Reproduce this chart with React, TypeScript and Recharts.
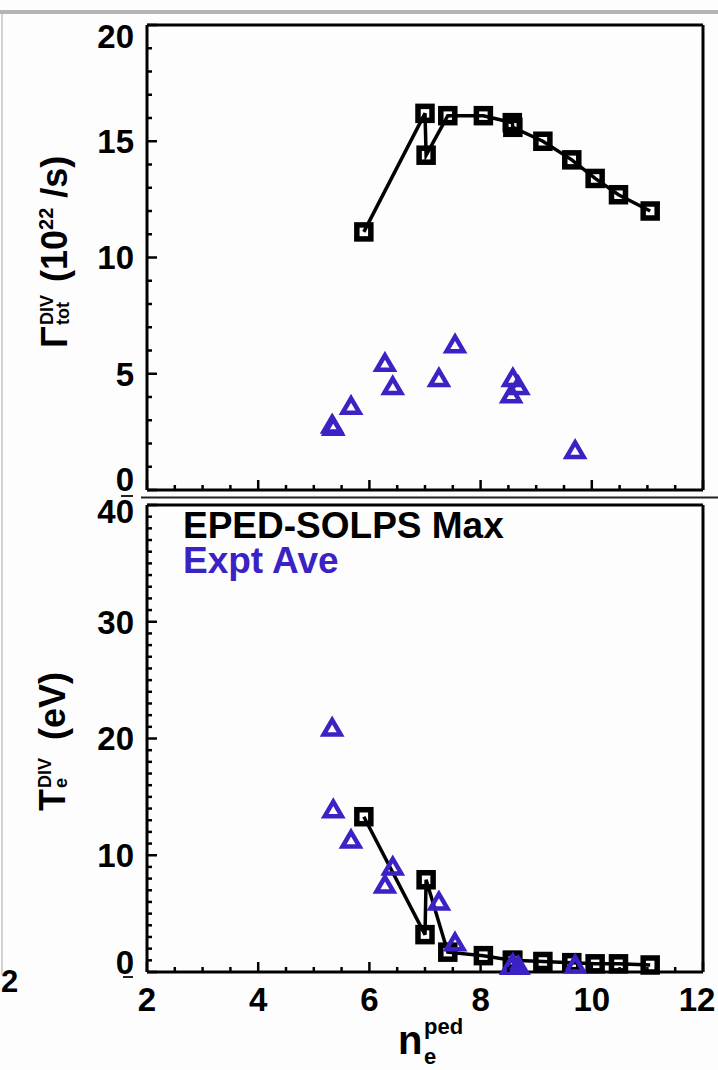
import React from 'react';
import { ScatterChart, Scatter, XAxis, YAxis } from 'recharts';

// EPED-SOLPS scan (max), in the order the line joins them
const solpsNe = [5.9, 7.0, 7.02, 7.41, 8.05, 8.57, 8.58, 9.12, 9.64, 10.06, 10.48, 11.05];
const solpsGamma = [11.1, 16.2, 14.4, 16.1, 16.1, 15.8, 15.6, 15.0, 14.2, 13.4, 12.7, 12.0];
const solpsTe = [13.3, 3.2, 7.9, 1.7, 1.4, 1.0, 1.0, 0.9, 0.8, 0.7, 0.7, 0.6];

// experimental averages
const exptNe = [5.33, 5.35, 5.67, 6.28, 6.42, 7.25, 7.54, 8.55, 8.58, 8.68, 9.7];
const exptGamma = [2.8, 2.7, 3.6, 5.45, 4.45, 4.8, 6.25, 4.1, 4.8, 4.45, 1.7];
const exptTe = [20.9, 13.9, 11.3, 7.45, 9.0, 6.0, 2.5, 0.5, 0.7, 0.5, 0.6];

const xMajor = [2, 4, 6, 8, 10, 12];
const gammaMajor = [0, 5, 10, 15, 20];
const teMajor = [0, 10, 20, 30, 40];

const BLUE = '#3a22c4';
const FONT = '"Liberation Sans", Arial, Helvetica, sans-serif';

const steps = (lo: number, hi: number, step: number) => {
  const out: number[] = [];
  for (let v = lo; v <= hi + 1e-9; v += step) out.push(Math.round(v * 1000) / 1000);
  return out;
};

const xTicks = steps(2, 12, 0.5);
const gammaTicks = steps(0, 20, 1);
const teTicks = steps(0, 40, 1);

const toPoints = (xs: number[], ys: number[]) => xs.map((x, i) => ({ x, y: ys[i] }));

type Side = 'left' | 'right' | 'top' | 'bottom';

// inward box ticks, labels only on left / bottom
const makeTick = (side: Side, majors: number[], withLabels = true, shift: Record<number, number> = {}) => (props: any) => {
  const { x, y, payload } = props;
  const v = payload.value;
  const major = majors.some((m) => Math.abs(m - v) < 1e-6);
  const len = major ? 10 : 5;
  let line;
  if (side === 'bottom') line = <line x1={x} y1={y} x2={x} y2={y - len} />;
  else if (side === 'top') line = <line x1={x} y1={y} x2={x} y2={y + len} />;
  else if (side === 'left') line = <line x1={x} y1={y} x2={x + len} y2={y} />;
  else line = <line x1={x} y1={y} x2={x - len} y2={y} />;

  let label = null;
  if (withLabels && major && side === 'left') {
    label = (
      <text x={x - 13} y={y + (shift[v] || 0)} dy="0.36em" textAnchor="end" fontSize={33}
        fontWeight="bold" fontFamily={FONT} fill="#000">{v}</text>
    );
  } else if (withLabels && major && side === 'bottom') {
    // keep the last label inside the page edge
    const lx = Math.min(x, 697);
    label = (
      <text x={lx} y={y + 39} textAnchor="middle" fontSize={33} fontWeight="bold"
        fontFamily={FONT} fill="#000">{v}</text>
    );
  }
  return (
    <g>
      <g stroke="#000" strokeWidth={2.5}>{line}</g>
      {label}
    </g>
  );
};

const SquareMark = (props: any) => {
  const { cx, cy } = props;
  return <rect x={cx - 7} y={cy - 7} width={14} height={14} fill="none" stroke="#000" strokeWidth={5.5} />;
};

const TriangleMark = (props: any) => {
  const { cx, cy } = props;
  return (
    <path d={`M${cx},${cy - 8}L${cx + 8.5},${cy + 6.5}L${cx - 8.5},${cy + 6.5}Z`}
      fill="none" stroke={BLUE} strokeWidth={4.5} strokeLinejoin="miter" />
  );
};

const axisLine = { stroke: '#000', strokeWidth: 3 };

// axes are 1px thick so they still render; margins put the box at x 147..703
const Panel = ({ top, height, margin, yDomain, yTicks, yMajor, yShift, solps, expt, showX }: any) => (
  <div style={{ position: 'absolute', left: 0, top }}>
    <ScatterChart width={718} height={height} margin={margin}>
      <XAxis type="number" dataKey="x" domain={[2, 12]} ticks={xTicks} interval={0} height={1}
        tickSize={0} tickMargin={0} tickLine={false} axisLine={axisLine}
        tick={makeTick('bottom', xMajor, showX)} />
      <XAxis xAxisId="top" orientation="top" type="number" dataKey="x" domain={[2, 12]} ticks={xTicks}
        interval={0} height={1} tickSize={0} tickMargin={0} tickLine={false} axisLine={axisLine}
        tick={makeTick('top', xMajor)} />
      <YAxis type="number" dataKey="y" domain={yDomain} ticks={yTicks} interval={0} width={1}
        tickSize={0} tickMargin={0} tickLine={false} axisLine={axisLine}
        tick={makeTick('left', yMajor, true, yShift)} />
      <YAxis yAxisId="right" orientation="right" type="number" dataKey="y" domain={yDomain} ticks={yTicks}
        interval={0} width={1} tickSize={0} tickMargin={0} tickLine={false} axisLine={axisLine}
        tick={makeTick('right', yMajor)} />
      <Scatter data={solps} shape={SquareMark} line={{ stroke: '#000', strokeWidth: 3.5 }}
        lineType="joint" isAnimationActive={false} />
      <Scatter data={expt} shape={TriangleMark} isAnimationActive={false} />
    </ScatterChart>
  </div>
);

export default function App() {
  return (
    <div style={{ position: 'absolute', left: 0, top: 0, width: 718, height: 1070, background: '#fdfdfd', overflow: 'hidden' }}>
      <Panel top={0} height={520} margin={{ top: 24, right: 14, bottom: 29, left: 146 }}
        yDomain={[0, 20]} yTicks={gammaTicks} yMajor={gammaMajor} yShift={{ 20: 11, 0: -11 }}
        solps={toPoints(solpsNe, solpsGamma)} expt={toPoints(exptNe, exptGamma)} showX={false} />
      <Panel top={498} height={572} margin={{ top: 6, right: 14, bottom: 97, left: 146 }}
        yDomain={[0, 40]} yTicks={teTicks} yMajor={teMajor} yShift={{ 40: 6, 0: -10 }}
        solps={toPoints(solpsNe, solpsTe)} expt={toPoints(exptNe, exptTe)} showX />

      <svg width={718} height={1070} style={{ position: 'absolute', left: 0, top: 0, pointerEvents: 'none' }}
        fontFamily={FONT} fontWeight="bold">
        <rect x={0} y={10} width={718} height={4} fill="#b4b4b4" />
        <line x1={2} y1={14} x2={2} y2={975} stroke="#c4c4c4" strokeWidth={1.5} />
        <line x1={141} y1={497.5} x2={718} y2={497.5} stroke="#222" strokeWidth={2} />
        <line x1={121} y1={496} x2={133} y2={496} stroke="#222" strokeWidth={2} />
        <line x1={123} y1={977} x2={133} y2={977} stroke="#222" strokeWidth={2} />
        <text x={1} y={992} fontSize={31} fill="#000">2</text>

        {/* legend */}
        <text x={183} y={538} fontSize={37} fill="#000">EPED-SOLPS Max</text>
        <text x={183} y={573} fontSize={37} fill={BLUE}>Expt Ave</text>

        {/* Γ_tot^DIV (10^22 /s) */}
        <g transform="translate(67,348) rotate(-90)" fill="#000">
          <text x={0} y={0} fontSize={36}>Γ</text>
          <text x={23} y={-14} fontSize={18}>DIV</text>
          <text x={23} y={2} fontSize={18}>tot</text>
          <text x={66} y={0} fontSize={36}>(10<tspan dy={-14} fontSize={20}>22</tspan><tspan dy={14} fontSize={36}> /s)</tspan></text>
        </g>

        {/* T_e^DIV (eV) */}
        <g transform="translate(65,811) rotate(-90)" fill="#000">
          <text x={0} y={0} fontSize={36}>T</text>
          <text x={23} y={-14} fontSize={18}>DIV</text>
          <text x={23} y={2} fontSize={18}>e</text>
          <text x={71} y={0} fontSize={36}>(eV)</text>
        </g>

        {/* n_e^ped */}
        <text x={398} y={1054} fontSize={40} fill="#000">n</text>
        <text x={424} y={1034} fontSize={22} fill="#000">ped</text>
        <text x={424} y={1064} fontSize={22} fill="#000">e</text>
      </svg>
    </div>
  );
}
